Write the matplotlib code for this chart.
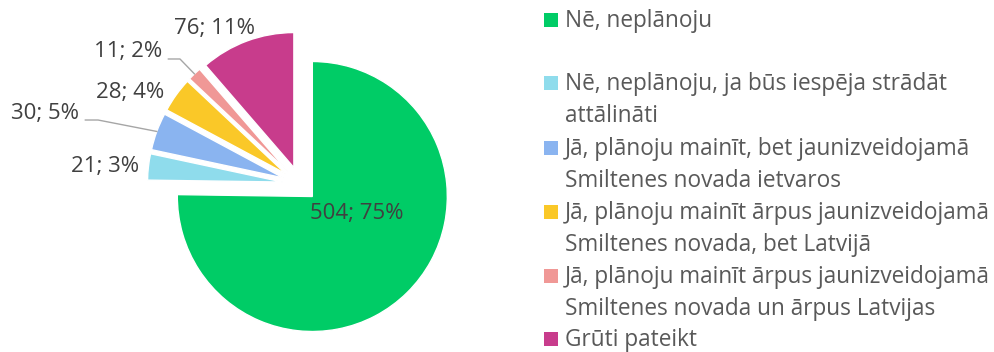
import matplotlib.pyplot as plt
import numpy as np
from matplotlib.patches import Rectangle

plt.rcParams['font.family'] = ['Open Sans', 'DejaVu Sans']

categories = [
    'Nē, neplānoju',
    'Nē, neplānoju, ja būs iespēja strādāt\nattālināti',
    'Jā, plānoju mainīt, bet jaunizveidojamā\nSmiltenes novada ietvaros',
    'Jā, plānoju mainīt ārpus jaunizveidojamā\nSmiltenes novada, bet Latvijā',
    'Jā, plānoju mainīt ārpus jaunizveidojamā\nSmiltenes novada un ārpus Latvijas',
    'Grūti pateikt',
]
counts = [504, 21, 30, 28, 11, 76]
percents = [75, 3, 5, 4, 2, 11]
colors = ['#00CC66', '#8FDCEC', '#8AB4F0', '#FAC828', '#F09896', '#C83C8C']

W, H = 995, 352
fig = plt.figure(figsize=(W / 100, H / 100), dpi=100)

# pie area on the left, 135 px per data unit, pie centre at (300, 184) px
scale = 135
cx, cy = 300, 184
ax = fig.add_axes([0, 0, 500 / W, 1])
wedges, _ = ax.pie(counts, colors=colors, startangle=90, counterclock=False,
                   explode=[0.13] * len(counts), radius=1,
                   wedgeprops=dict(edgecolor='white', linewidth=1))
ax.set_xlim(-cx / scale, (500 - cx) / scale)
ax.set_ylim((cy - H) / scale, cy / scale)
ax.set_aspect('auto')
ax.axis('off')

# data label positions (data units)
label_xy = [(0.42, -0.22), (-1.444, 0.128), (-1.889, 0.521),
            (-1.259, 0.676), (-1.274, 0.98), (-0.637, 1.151)]
for c, p, (x, y) in zip(counts, percents, label_xy):
    ax.text(x, y, f'{c}; {p}%', ha='center', va='center',
            fontsize=16, color='#404040')

# leader lines for the labels sitting away from their slices
leaders = {4: [(-0.975, 0.926), (-0.889, 0.926)],
           2: [(-1.590, 0.474), (-1.496, 0.474)]}
for i, pts in leaders.items():
    w = wedges[i]
    th = np.deg2rad((w.theta1 + w.theta2) / 2)
    end = (w.center[0] + w.r * np.cos(th), w.center[1] + w.r * np.sin(th))
    xs = [pt[0] for pt in pts] + [end[0]]
    ys = [pt[1] for pt in pts] + [end[1]]
    ax.plot(xs, ys, color='#A6A6A6', linewidth=1)

# legend drawn on the right
row_y = [20, 83, 148, 212, 276, 339]
line_gap = 32
for lab, col, y in zip(categories, colors, row_y):
    fig.add_artist(Rectangle((544 / W, 1 - (y + 7) / H), 14 / W, 14 / H,
                             transform=fig.transFigure, facecolor=col,
                             edgecolor='none'))
    for k, line in enumerate(lab.split('\n')):
        fig.text(565 / W, 1 - (y + 1 + k * line_gap) / H, line, ha='left',
                 va='center', fontsize=16.3, color='#595959')

fig.savefig('out.png', dpi=100)
